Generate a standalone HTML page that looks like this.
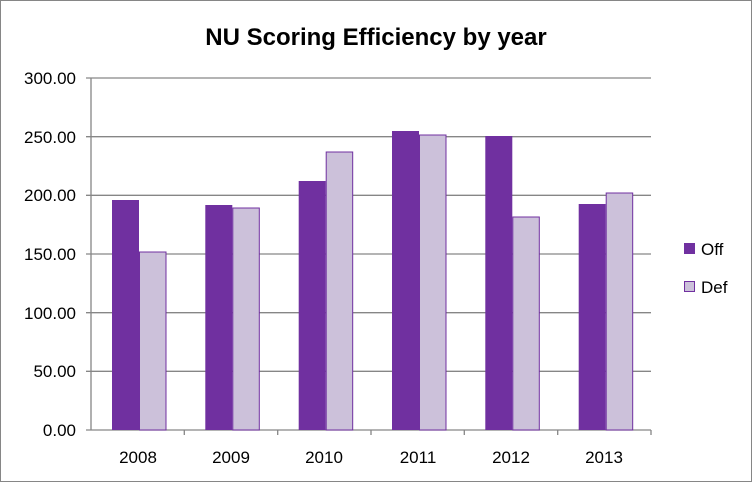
<!DOCTYPE html>
<html><head><style>body{margin:0;background:#fff}</style></head><body>
<svg width="752" height="482" xmlns="http://www.w3.org/2000/svg" font-family="Liberation Sans, Arial, sans-serif">
<rect x="0.5" y="0.5" width="751" height="481" fill="#fff" stroke="#868686"/>
<text x="376" y="45" text-anchor="middle" font-size="24" font-weight="bold" fill="#000">NU Scoring Efficiency by year</text>
<g stroke="#868686" stroke-width="1.3">
<line x1="86" y1="78" x2="651" y2="78"/>
<line x1="86" y1="136.7" x2="651" y2="136.7"/>
<line x1="86" y1="195.3" x2="651" y2="195.3"/>
<line x1="86" y1="254" x2="651" y2="254"/>
<line x1="86" y1="312.7" x2="651" y2="312.7"/>
<line x1="86" y1="371.3" x2="651" y2="371.3"/>
<line x1="86" y1="430" x2="651" y2="430"/>
<line x1="91" y1="78" x2="91" y2="430"/>
<line x1="184.3" y1="430" x2="184.3" y2="435"/>
<line x1="277.7" y1="430" x2="277.7" y2="435"/>
<line x1="371" y1="430" x2="371" y2="435"/>
<line x1="464.3" y1="430" x2="464.3" y2="435"/>
<line x1="557.7" y1="430" x2="557.7" y2="435"/>
<line x1="651" y1="430" x2="651" y2="435"/>
</g>
<g font-size="17" fill="#000" text-anchor="end">
<text x="76" y="84">300.00</text>
<text x="76" y="143">250.00</text>
<text x="76" y="201">200.00</text>
<text x="76" y="260">150.00</text>
<text x="76" y="319">100.00</text>
<text x="76" y="377">50.00</text>
<text x="76" y="436">0.00</text>
</g>
<g font-size="17" fill="#000" text-anchor="middle">
<text x="138" y="463">2008</text>
<text x="231" y="463">2009</text>
<text x="324" y="463">2010</text>
<text x="418" y="463">2011</text>
<text x="511" y="463">2012</text>
<text x="604" y="463">2013</text>
</g>
<g fill="#7030A0">
<rect x="112" y="200" width="27" height="230"/>
<rect x="205.3" y="205" width="27" height="225"/>
<rect x="298.7" y="181" width="27" height="249"/>
<rect x="392" y="131" width="27" height="299"/>
<rect x="485.3" y="136" width="27" height="294"/>
<rect x="578.7" y="204" width="27" height="226"/>
</g>
<g fill="#CCC1DA" stroke="#7030A0" stroke-width="1">
<rect x="139.5" y="252" width="26.5" height="178"/>
<rect x="232.8" y="208" width="26.5" height="222"/>
<rect x="326.2" y="152" width="26.5" height="278"/>
<rect x="419.5" y="135" width="26.5" height="295"/>
<rect x="512.8" y="217" width="26.5" height="213"/>
<rect x="606.2" y="193" width="26.5" height="237"/>
</g>
<rect x="684" y="243" width="11" height="11" fill="#7030A0"/>
<text x="701" y="255" font-size="17">Off</text>
<rect x="684.5" y="281.5" width="10" height="10" fill="#CCC1DA" stroke="#7030A0"/>
<text x="701" y="293" font-size="17">Def</text>
</svg>
</body></html>
